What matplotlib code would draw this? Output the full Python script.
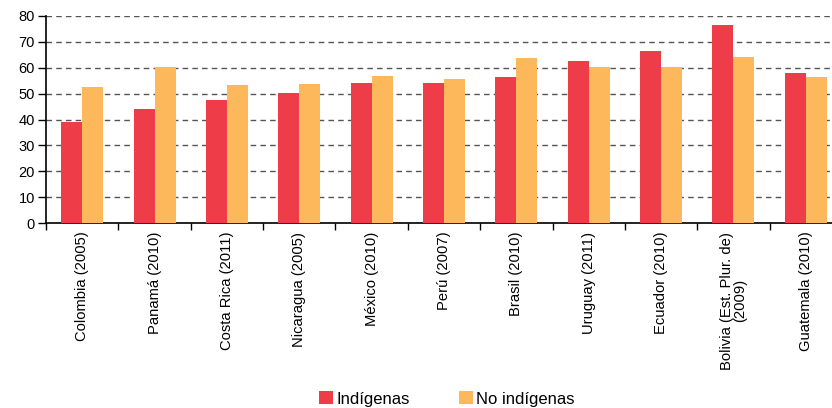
import numpy as np
import matplotlib
matplotlib.use('Agg')
import matplotlib.pyplot as plt
from matplotlib.patches import Patch

# datos
paises = ['Colombia (2005)', 'Panamá (2010)', 'Costa Rica (2011)', 'Nicaragua (2005)',
          'México (2010)', 'Perú (2007)', 'Brasil (2010)', 'Uruguay (2011)',
          'Ecuador (2010)', 'Bolivia (Est. Plur. de)\n(2009)', 'Guatemala (2010)']
indigenas = [39.0, 44.0, 47.5, 50.1, 54.1, 54.1, 56.3, 62.4, 66.3, 76.3, 57.9]
no_indigenas = [52.4, 60.1, 53.4, 53.6, 56.8, 55.7, 63.6, 60.1, 60.1, 64.1, 56.3]
series = ['Indígenas', 'No indígenas']
colores = ['#EE3D48', '#FCB85A']

plt.rcParams['font.family'] = ['Liberation Sans', 'DejaVu Sans']

fig = plt.figure(figsize=(8.32, 4.08), dpi=100)
ax = fig.add_axes([46 / 832, 184.7 / 408, 796 / 832, 207.6 / 408])

x = np.arange(len(paises))
w = 0.29
ax.bar(x - w / 2, indigenas, w, color=colores[0], zorder=3)
ax.bar(x + w / 2, no_indigenas, w, color=colores[1], zorder=3)

ax.set_xlim(-0.5, len(paises) - 0.5)
ax.set_ylim(0, 80)
ax.set_yticks(range(0, 81, 10))
ax.yaxis.grid(True, linestyle=(0, (4, 3)), color='#555555', linewidth=1.0, zorder=0)
ax.set_axisbelow(True)

ax.set_xticks(x)
ax.set_xticklabels(paises, rotation=90, fontsize=10.6, ha='center', va='top',
                   multialignment='center', linespacing=0.95)
ax.tick_params(axis='x', length=0, pad=6)
ax.set_xticks(np.arange(-0.5, len(paises), 1), minor=True)
ax.tick_params(axis='x', which='minor', length=5, width=1, color='black', direction='out')
ax.tick_params(axis='y', length=6, width=1, color='black', labelsize=10.5, pad=2)

for s in ['top', 'right']:
    ax.spines[s].set_visible(False)
ax.spines['left'].set_linewidth(1.2)
ax.spines['bottom'].set_linewidth(1.2)

handles = [Patch(facecolor=c, label=l) for c, l in zip(colores, series)]
fig.legend(handles=handles, loc='center', bbox_to_anchor=(447 / 832, 1 - 399 / 408),
           ncol=2, frameon=False, prop={'size': 12},
           handlelength=0.8, handleheight=0.8, handletextpad=0.2, columnspacing=3.0)

fig.savefig('out.png', dpi=100)
